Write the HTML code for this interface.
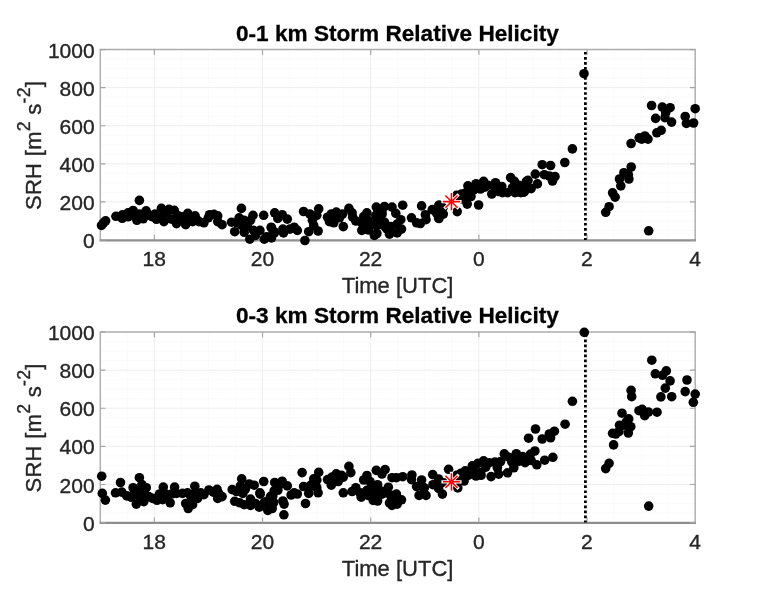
<!DOCTYPE html>
<html><head><meta charset="utf-8"><title>Storm Relative Helicity</title>
<style>html,body{margin:0;padding:0;background:#fff}svg{display:block}text{filter:grayscale(1);font-family:"Liberation Sans",Arial,Helvetica,sans-serif;fill:#262626}.t{font-size:21px;stroke:#262626;stroke-width:.35px}.l{font-size:22px;stroke:#262626;stroke-width:.35px}.h{font-size:22.6px;font-weight:bold;fill:#000;stroke:#000;stroke-width:.3px}</style></head><body>
<svg width="768" height="596" viewBox="0 0 768 596">
<rect width="768" height="596" fill="#fff"/>
<g>
<path d="M127.34 49.55V240.00M181.42 49.55V240.00M208.46 49.55V240.00M235.50 49.55V240.00M289.59 49.55V240.00M316.63 49.55V240.00M343.67 49.55V240.00M397.75 49.55V240.00M424.79 49.55V240.00M451.83 49.55V240.00M505.91 49.55V240.00M532.95 49.55V240.00M560.00 49.55V240.00M614.08 49.55V240.00M641.12 49.55V240.00M668.16 49.55V240.00M100.30 230.48H695.20M100.30 220.96H695.20M100.30 211.43H695.20M100.30 192.39H695.20M100.30 182.87H695.20M100.30 173.34H695.20M100.30 154.30H695.20M100.30 144.78H695.20M100.30 135.25H695.20M100.30 116.21H695.20M100.30 106.69H695.20M100.30 97.16H695.20M100.30 78.12H695.20M100.30 68.60H695.20M100.30 59.07H695.20" stroke="#f1f1f1" stroke-width="0.8" stroke-dasharray="1 1.5" fill="none"/>
<path d="M154.38 49.55V240.00M262.55 49.55V240.00M370.71 49.55V240.00M478.87 49.55V240.00M587.04 49.55V240.00M100.30 201.91H695.20M100.30 163.82H695.20M100.30 125.73H695.20M100.30 87.64H695.20" stroke="#eeeeee" stroke-width="1" fill="none"/>
<path d="M100.30 240.40V49.55H695.20V240.40" fill="none" stroke="#adadad" stroke-width="1.45"/>
<path d="M99.60 240.45H695.90" fill="none" stroke="#8e8e8e" stroke-width="2.2"/>
<path d="M154.38 240.00v-5.20M154.38 49.55v5.20M262.55 240.00v-5.20M262.55 49.55v5.20M370.71 240.00v-5.20M370.71 49.55v5.20M478.87 240.00v-5.20M478.87 49.55v5.20M587.04 240.00v-5.20M587.04 49.55v5.20M100.30 240.00h5.20M695.20 240.00h-5.20M100.30 201.91h5.20M695.20 201.91h-5.20M100.30 163.82h5.20M695.20 163.82h-5.20M100.30 125.73h5.20M695.20 125.73h-5.20M100.30 87.64h5.20M695.20 87.64h-5.20M100.30 49.55h5.20M695.20 49.55h-5.20" stroke="#a4a4a4" stroke-width="1.15" fill="none"/>
<path d="M585.40 49.55V240.00" stroke="#000" stroke-width="2.75" stroke-dasharray="2.65 2.38" stroke-dashoffset="2.63" fill="none"/>
<g fill="#000">
<circle cx="101.5" cy="225.4" r="4.80"/>
<circle cx="103.5" cy="222.8" r="4.80"/>
<circle cx="105.6" cy="220.8" r="4.80"/>
<circle cx="139.4" cy="200.4" r="4.80"/>
<circle cx="115.9" cy="216.3" r="4.80"/>
<circle cx="122.2" cy="218.3" r="4.80"/>
<circle cx="122.4" cy="214.8" r="4.80"/>
<circle cx="128.1" cy="212.8" r="4.80"/>
<circle cx="128.1" cy="216.8" r="4.80"/>
<circle cx="133.1" cy="210.5" r="4.80"/>
<circle cx="133.7" cy="215.3" r="4.80"/>
<circle cx="136.9" cy="220.3" r="4.80"/>
<circle cx="139.4" cy="214.0" r="4.80"/>
<circle cx="143.2" cy="218.8" r="4.80"/>
<circle cx="146.1" cy="210.9" r="4.80"/>
<circle cx="148.8" cy="215.3" r="4.80"/>
<circle cx="152.6" cy="216.8" r="4.80"/>
<circle cx="156.4" cy="219.3" r="4.80"/>
<circle cx="161.4" cy="208.4" r="4.80"/>
<circle cx="163.9" cy="221.6" r="4.80"/>
<circle cx="166.5" cy="212.8" r="4.80"/>
<circle cx="169.0" cy="209.3" r="4.80"/>
<circle cx="174.3" cy="210.3" r="4.80"/>
<circle cx="171.5" cy="219.1" r="4.80"/>
<circle cx="176.5" cy="223.6" r="4.80"/>
<circle cx="178.4" cy="215.9" r="4.80"/>
<circle cx="187.8" cy="213.3" r="4.80"/>
<circle cx="185.7" cy="224.7" r="4.80"/>
<circle cx="182.5" cy="220.3" r="4.80"/>
<circle cx="195.1" cy="215.9" r="4.80"/>
<circle cx="192.6" cy="221.6" r="4.80"/>
<circle cx="198.9" cy="221.6" r="4.80"/>
<circle cx="203.9" cy="222.8" r="4.80"/>
<circle cx="209.6" cy="214.7" r="4.80"/>
<circle cx="214.0" cy="214.3" r="4.80"/>
<circle cx="217.7" cy="215.9" r="4.80"/>
<circle cx="217.7" cy="221.6" r="4.80"/>
<circle cx="222.1" cy="224.7" r="4.80"/>
<circle cx="231.6" cy="222.2" r="4.80"/>
<circle cx="241.4" cy="208.4" r="4.80"/>
<circle cx="239.1" cy="217.8" r="4.80"/>
<circle cx="244.2" cy="220.3" r="4.80"/>
<circle cx="234.7" cy="231.7" r="4.80"/>
<circle cx="241.7" cy="225.4" r="4.80"/>
<circle cx="244.2" cy="232.3" r="4.80"/>
<circle cx="253.0" cy="215.3" r="4.80"/>
<circle cx="250.5" cy="220.3" r="4.80"/>
<circle cx="263.7" cy="215.3" r="4.80"/>
<circle cx="253.6" cy="230.4" r="4.80"/>
<circle cx="259.9" cy="230.4" r="4.80"/>
<circle cx="249.8" cy="239.2" r="4.80"/>
<circle cx="255.5" cy="235.4" r="4.80"/>
<circle cx="264.3" cy="239.2" r="4.80"/>
<circle cx="271.2" cy="227.2" r="4.80"/>
<circle cx="270.6" cy="236.7" r="4.80"/>
<circle cx="274.4" cy="232.9" r="4.80"/>
<circle cx="274.7" cy="212.8" r="4.80"/>
<circle cx="282.2" cy="214.7" r="4.80"/>
<circle cx="277.8" cy="218.4" r="4.80"/>
<circle cx="287.3" cy="219.1" r="4.80"/>
<circle cx="271.5" cy="227.9" r="4.80"/>
<circle cx="274.1" cy="231.7" r="4.80"/>
<circle cx="266.5" cy="236.7" r="4.80"/>
<circle cx="271.5" cy="237.9" r="4.80"/>
<circle cx="282.9" cy="229.1" r="4.80"/>
<circle cx="283.5" cy="232.9" r="4.80"/>
<circle cx="289.8" cy="229.1" r="4.80"/>
<circle cx="294.2" cy="227.2" r="4.80"/>
<circle cx="297.3" cy="230.4" r="4.80"/>
<circle cx="303.6" cy="211.5" r="4.80"/>
<circle cx="309.9" cy="214.0" r="4.80"/>
<circle cx="318.7" cy="208.8" r="4.80"/>
<circle cx="316.8" cy="215.3" r="4.80"/>
<circle cx="312.4" cy="220.3" r="4.80"/>
<circle cx="313.7" cy="225.4" r="4.80"/>
<circle cx="308.7" cy="231.7" r="4.80"/>
<circle cx="318.1" cy="231.0" r="4.80"/>
<circle cx="304.9" cy="240.5" r="4.80"/>
<circle cx="327.5" cy="217.2" r="4.80"/>
<circle cx="331.3" cy="214.0" r="4.80"/>
<circle cx="336.3" cy="212.1" r="4.80"/>
<circle cx="329.4" cy="221.6" r="4.80"/>
<circle cx="333.8" cy="222.8" r="4.80"/>
<circle cx="339.5" cy="217.8" r="4.80"/>
<circle cx="343.3" cy="226.6" r="4.80"/>
<circle cx="342.6" cy="214.0" r="4.80"/>
<circle cx="348.9" cy="208.4" r="4.80"/>
<circle cx="352.1" cy="212.8" r="4.80"/>
<circle cx="352.7" cy="217.2" r="4.80"/>
<circle cx="355.8" cy="221.0" r="4.80"/>
<circle cx="366.9" cy="212.8" r="4.80"/>
<circle cx="363.7" cy="216.6" r="4.80"/>
<circle cx="361.8" cy="222.8" r="4.80"/>
<circle cx="361.8" cy="230.4" r="4.80"/>
<circle cx="368.1" cy="220.3" r="4.80"/>
<circle cx="368.1" cy="226.6" r="4.80"/>
<circle cx="376.3" cy="207.1" r="4.80"/>
<circle cx="384.5" cy="206.5" r="4.80"/>
<circle cx="392.0" cy="207.1" r="4.80"/>
<circle cx="382.0" cy="212.1" r="4.80"/>
<circle cx="395.8" cy="213.4" r="4.80"/>
<circle cx="402.7" cy="205.2" r="4.80"/>
<circle cx="376.9" cy="219.1" r="4.80"/>
<circle cx="375.7" cy="225.4" r="4.80"/>
<circle cx="376.9" cy="233.5" r="4.80"/>
<circle cx="374.4" cy="235.4" r="4.80"/>
<circle cx="384.5" cy="222.2" r="4.80"/>
<circle cx="400.8" cy="219.7" r="4.80"/>
<circle cx="397.1" cy="224.1" r="4.80"/>
<circle cx="390.8" cy="226.6" r="4.80"/>
<circle cx="389.5" cy="234.2" r="4.80"/>
<circle cx="397.1" cy="232.9" r="4.80"/>
<circle cx="387.0" cy="229.1" r="4.80"/>
<circle cx="411.5" cy="217.8" r="4.80"/>
<circle cx="421.6" cy="205.9" r="4.80"/>
<circle cx="416.6" cy="222.8" r="4.80"/>
<circle cx="420.3" cy="223.5" r="4.80"/>
<circle cx="426.0" cy="219.7" r="4.80"/>
<circle cx="425.4" cy="214.7" r="4.80"/>
<circle cx="432.3" cy="209.6" r="4.80"/>
<circle cx="439.2" cy="205.2" r="4.80"/>
<circle cx="438.6" cy="211.5" r="4.80"/>
<circle cx="438.6" cy="217.8" r="4.80"/>
<circle cx="443.0" cy="207.7" r="4.80"/>
<circle cx="438.9" cy="205.3" r="4.80"/>
<circle cx="436.4" cy="212.9" r="4.80"/>
<circle cx="443.3" cy="214.1" r="4.80"/>
<circle cx="438.9" cy="218.5" r="4.80"/>
<circle cx="456.5" cy="195.3" r="4.80"/>
<circle cx="457.2" cy="211.6" r="4.80"/>
<circle cx="461.6" cy="194.0" r="4.80"/>
<circle cx="467.9" cy="185.8" r="4.80"/>
<circle cx="466.0" cy="192.7" r="4.80"/>
<circle cx="466.0" cy="199.0" r="4.80"/>
<circle cx="467.2" cy="204.1" r="4.80"/>
<circle cx="478.6" cy="205.0" r="4.80"/>
<circle cx="476.0" cy="183.7" r="4.80"/>
<circle cx="483.6" cy="181.4" r="4.80"/>
<circle cx="480.4" cy="189.0" r="4.80"/>
<circle cx="473.5" cy="190.2" r="4.80"/>
<circle cx="488.0" cy="185.2" r="4.80"/>
<circle cx="495.5" cy="182.7" r="4.80"/>
<circle cx="491.8" cy="194.0" r="4.80"/>
<circle cx="498.7" cy="191.5" r="4.80"/>
<circle cx="501.8" cy="186.5" r="4.80"/>
<circle cx="507.5" cy="192.7" r="4.80"/>
<circle cx="510.6" cy="177.6" r="4.80"/>
<circle cx="514.4" cy="181.4" r="4.80"/>
<circle cx="512.5" cy="187.7" r="4.80"/>
<circle cx="518.8" cy="189.0" r="4.80"/>
<circle cx="524.5" cy="191.5" r="4.80"/>
<circle cx="526.4" cy="181.4" r="4.80"/>
<circle cx="525.7" cy="186.5" r="4.80"/>
<circle cx="572.4" cy="148.9" r="4.80"/>
<circle cx="564.8" cy="162.5" r="4.80"/>
<circle cx="542.2" cy="164.7" r="4.80"/>
<circle cx="550.6" cy="165.5" r="4.80"/>
<circle cx="535.3" cy="174.1" r="4.80"/>
<circle cx="544.3" cy="174.7" r="4.80"/>
<circle cx="555.0" cy="176.6" r="4.80"/>
<circle cx="552.5" cy="181.0" r="4.80"/>
<circle cx="549.3" cy="176.0" r="4.80"/>
<circle cx="528.0" cy="180.4" r="4.80"/>
<circle cx="537.4" cy="183.9" r="4.80"/>
<circle cx="531.1" cy="188.6" r="4.80"/>
<circle cx="524.8" cy="186.7" r="4.80"/>
<circle cx="523.5" cy="192.3" r="4.80"/>
<circle cx="516.0" cy="187.9" r="4.80"/>
<circle cx="517.9" cy="191.7" r="4.80"/>
<circle cx="605.7" cy="212.3" r="4.80"/>
<circle cx="609.1" cy="206.7" r="4.80"/>
<circle cx="612.6" cy="192.8" r="4.80"/>
<circle cx="615.1" cy="197.2" r="4.80"/>
<circle cx="619.5" cy="179.0" r="4.80"/>
<circle cx="620.8" cy="185.9" r="4.80"/>
<circle cx="623.9" cy="172.7" r="4.80"/>
<circle cx="628.9" cy="179.0" r="4.80"/>
<circle cx="628.3" cy="174.6" r="4.80"/>
<circle cx="631.2" cy="167.0" r="4.80"/>
<circle cx="631.1" cy="143.5" r="4.80"/>
<circle cx="639.2" cy="137.9" r="4.80"/>
<circle cx="641.7" cy="139.1" r="4.80"/>
<circle cx="644.9" cy="136.0" r="4.80"/>
<circle cx="648.0" cy="139.1" r="4.80"/>
<circle cx="656.8" cy="132.8" r="4.80"/>
<circle cx="661.2" cy="130.3" r="4.80"/>
<circle cx="655.6" cy="118.4" r="4.80"/>
<circle cx="651.6" cy="105.5" r="4.80"/>
<circle cx="662.3" cy="107.1" r="4.80"/>
<circle cx="670.1" cy="107.7" r="4.80"/>
<circle cx="665.7" cy="112.7" r="4.80"/>
<circle cx="665.0" cy="117.7" r="4.80"/>
<circle cx="671.6" cy="122.1" r="4.80"/>
<circle cx="685.2" cy="116.5" r="4.80"/>
<circle cx="686.4" cy="123.4" r="4.80"/>
<circle cx="693.6" cy="123.0" r="4.80"/>
<circle cx="695.2" cy="108.7" r="4.80"/>
<circle cx="584.0" cy="73.7" r="4.80"/>
<circle cx="648.7" cy="230.8" r="4.80"/>
<circle cx="335.2" cy="214.4" r="4.80"/>
<circle cx="331.0" cy="219.6" r="4.80"/>
<circle cx="369.5" cy="224.8" r="4.80"/>
<circle cx="378.9" cy="224.8" r="4.80"/>
<circle cx="375.8" cy="215.4" r="4.80"/>
<circle cx="385.2" cy="226.9" r="4.80"/>
<circle cx="382.0" cy="214.4" r="4.80"/>
<circle cx="368.5" cy="230.0" r="4.80"/>
<circle cx="189.4" cy="217.8" r="4.80"/>
<circle cx="197.6" cy="220.3" r="4.80"/>
<circle cx="208.3" cy="217.8" r="4.80"/>
<circle cx="247.3" cy="226.0" r="4.80"/>
<circle cx="237.2" cy="222.8" r="4.80"/>
<circle cx="190.6" cy="219.3" r="4.80"/>
<circle cx="182.8" cy="216.8" r="4.80"/>
<circle cx="155.1" cy="214.0" r="4.80"/>
<circle cx="162.1" cy="215.9" r="4.80"/>
<circle cx="401.5" cy="229.1" r="4.80"/>
<circle cx="484.8" cy="187.1" r="4.80"/>
<circle cx="494.9" cy="188.0" r="4.80"/>
<circle cx="518.8" cy="185.2" r="4.80"/>
<circle cx="502.5" cy="192.7" r="4.80"/>
<circle cx="515.0" cy="192.7" r="4.80"/>
<circle cx="520.7" cy="192.7" r="4.80"/>
<circle cx="471.0" cy="196.5" r="4.80"/>
<circle cx="462.2" cy="199.0" r="4.80"/>
</g>
<path d="M441.40 201.60h20.20M451.50 191.50v20.20M444.36 194.46l14.28 14.28M444.36 208.74l14.28 -14.28" stroke="#fff" stroke-width="3.2" fill="none"/>
<path d="M442.90 201.60h17.20M451.50 193.00v17.20M445.42 195.52l12.16 12.16M445.42 207.68l12.16 -12.16" stroke="#ff0000" stroke-width="1.55" fill="none"/>
<text class="t" x="94.6" y="248.0" text-anchor="end">0</text>
<text class="t" x="94.6" y="209.9" text-anchor="end">200</text>
<text class="t" x="94.6" y="171.8" text-anchor="end">400</text>
<text class="t" x="94.6" y="133.7" text-anchor="end">600</text>
<text class="t" x="94.6" y="95.6" text-anchor="end">800</text>
<text class="t" x="94.6" y="57.6" text-anchor="end">1000</text>
<text class="t" x="154.3" y="266.2" text-anchor="middle">18</text>
<text class="t" x="262.4" y="266.2" text-anchor="middle">20</text>
<text class="t" x="370.6" y="266.2" text-anchor="middle">22</text>
<text class="t" x="478.8" y="266.2" text-anchor="middle">0</text>
<text class="t" x="586.9" y="266.2" text-anchor="middle">2</text>
<text class="t" x="695.1" y="266.2" text-anchor="middle">4</text>
<text class="l" x="397.6" y="293.2" text-anchor="middle">Time [UTC]</text>
<text class="h" x="397.4" y="40.6" text-anchor="middle">0-1 km Storm Relative Helicity</text>
<text class="l" letter-spacing="0.3" transform="translate(40.7 145.4) rotate(-90)" text-anchor="middle">SRH [m<tspan dy="-11.2" font-size="17.6">2</tspan><tspan dy="11.2"> s</tspan><tspan dy="-11.2" font-size="17.6">-2</tspan><tspan dy="11.2">]</tspan></text>
</g>
<g>
<path d="M127.34 332.07V522.60M181.42 332.07V522.60M208.46 332.07V522.60M235.50 332.07V522.60M289.59 332.07V522.60M316.63 332.07V522.60M343.67 332.07V522.60M397.75 332.07V522.60M424.79 332.07V522.60M451.83 332.07V522.60M505.91 332.07V522.60M532.95 332.07V522.60M560.00 332.07V522.60M614.08 332.07V522.60M641.12 332.07V522.60M668.16 332.07V522.60M100.30 513.07H695.20M100.30 503.55H695.20M100.30 494.02H695.20M100.30 474.97H695.20M100.30 465.44H695.20M100.30 455.91H695.20M100.30 436.86H695.20M100.30 427.34H695.20M100.30 417.81H695.20M100.30 398.76H695.20M100.30 389.23H695.20M100.30 379.70H695.20M100.30 360.65H695.20M100.30 351.12H695.20M100.30 341.60H695.20" stroke="#f1f1f1" stroke-width="0.8" stroke-dasharray="1 1.5" fill="none"/>
<path d="M154.38 332.07V522.60M262.55 332.07V522.60M370.71 332.07V522.60M478.87 332.07V522.60M587.04 332.07V522.60M100.30 484.49H695.20M100.30 446.39H695.20M100.30 408.28H695.20M100.30 370.18H695.20" stroke="#eeeeee" stroke-width="1" fill="none"/>
<path d="M100.30 523.00V332.07H695.20V523.00" fill="none" stroke="#adadad" stroke-width="1.45"/>
<path d="M99.60 522.80H695.90" fill="none" stroke="#8e8e8e" stroke-width="2.2"/>
<path d="M154.38 522.60v-5.20M154.38 332.07v5.20M262.55 522.60v-5.20M262.55 332.07v5.20M370.71 522.60v-5.20M370.71 332.07v5.20M478.87 522.60v-5.20M478.87 332.07v5.20M587.04 522.60v-5.20M587.04 332.07v5.20M100.30 522.60h5.20M695.20 522.60h-5.20M100.30 484.49h5.20M695.20 484.49h-5.20M100.30 446.39h5.20M695.20 446.39h-5.20M100.30 408.28h5.20M695.20 408.28h-5.20M100.30 370.18h5.20M695.20 370.18h-5.20M100.30 332.07h5.20M695.20 332.07h-5.20" stroke="#a4a4a4" stroke-width="1.15" fill="none"/>
<path d="M585.40 332.07V522.60" stroke="#000" stroke-width="2.75" stroke-dasharray="2.65 2.38" stroke-dashoffset="2.63" fill="none"/>
<g fill="#000">
<circle cx="101.7" cy="476.2" r="4.80"/>
<circle cx="102.3" cy="493.4" r="4.80"/>
<circle cx="105.4" cy="500.1" r="4.80"/>
<circle cx="120.5" cy="482.5" r="4.80"/>
<circle cx="115.5" cy="492.8" r="4.80"/>
<circle cx="121.8" cy="492.1" r="4.80"/>
<circle cx="126.8" cy="495.9" r="4.80"/>
<circle cx="133.1" cy="487.7" r="4.80"/>
<circle cx="139.4" cy="477.7" r="4.80"/>
<circle cx="141.9" cy="484.6" r="4.80"/>
<circle cx="146.3" cy="487.7" r="4.80"/>
<circle cx="133.7" cy="494.0" r="4.80"/>
<circle cx="136.3" cy="504.1" r="4.80"/>
<circle cx="143.8" cy="501.6" r="4.80"/>
<circle cx="140.0" cy="496.6" r="4.80"/>
<circle cx="148.8" cy="496.6" r="4.80"/>
<circle cx="152.6" cy="498.4" r="4.80"/>
<circle cx="157.0" cy="500.3" r="4.80"/>
<circle cx="159.5" cy="494.0" r="4.80"/>
<circle cx="163.3" cy="487.1" r="4.80"/>
<circle cx="165.8" cy="494.0" r="4.80"/>
<circle cx="162.7" cy="499.7" r="4.80"/>
<circle cx="170.2" cy="502.8" r="4.80"/>
<circle cx="171.5" cy="494.0" r="4.80"/>
<circle cx="174.6" cy="487.1" r="4.80"/>
<circle cx="176.5" cy="493.4" r="4.80"/>
<circle cx="182.5" cy="493.4" r="4.80"/>
<circle cx="187.5" cy="492.8" r="4.80"/>
<circle cx="194.8" cy="486.2" r="4.80"/>
<circle cx="185.7" cy="503.5" r="4.80"/>
<circle cx="188.2" cy="508.5" r="4.80"/>
<circle cx="192.6" cy="504.7" r="4.80"/>
<circle cx="193.8" cy="494.0" r="4.80"/>
<circle cx="197.6" cy="498.4" r="4.80"/>
<circle cx="200.8" cy="492.8" r="4.80"/>
<circle cx="203.9" cy="494.7" r="4.80"/>
<circle cx="208.9" cy="490.0" r="4.80"/>
<circle cx="217.1" cy="489.3" r="4.80"/>
<circle cx="219.0" cy="494.0" r="4.80"/>
<circle cx="217.7" cy="498.4" r="4.80"/>
<circle cx="222.1" cy="496.6" r="4.80"/>
<circle cx="232.2" cy="489.6" r="4.80"/>
<circle cx="241.7" cy="478.9" r="4.80"/>
<circle cx="240.4" cy="485.9" r="4.80"/>
<circle cx="245.4" cy="489.0" r="4.80"/>
<circle cx="249.2" cy="484.0" r="4.80"/>
<circle cx="254.2" cy="485.2" r="4.80"/>
<circle cx="242.9" cy="493.4" r="4.80"/>
<circle cx="234.7" cy="501.3" r="4.80"/>
<circle cx="259.9" cy="492.8" r="4.80"/>
<circle cx="263.7" cy="481.5" r="4.80"/>
<circle cx="244.2" cy="504.7" r="4.80"/>
<circle cx="250.5" cy="499.1" r="4.80"/>
<circle cx="250.5" cy="505.4" r="4.80"/>
<circle cx="255.5" cy="503.5" r="4.80"/>
<circle cx="259.3" cy="507.2" r="4.80"/>
<circle cx="274.7" cy="482.5" r="4.80"/>
<circle cx="282.2" cy="481.2" r="4.80"/>
<circle cx="279.1" cy="485.2" r="4.80"/>
<circle cx="287.3" cy="485.9" r="4.80"/>
<circle cx="274.1" cy="490.9" r="4.80"/>
<circle cx="277.8" cy="490.3" r="4.80"/>
<circle cx="272.8" cy="495.9" r="4.80"/>
<circle cx="266.5" cy="501.6" r="4.80"/>
<circle cx="271.5" cy="505.4" r="4.80"/>
<circle cx="267.8" cy="510.4" r="4.80"/>
<circle cx="272.2" cy="508.5" r="4.80"/>
<circle cx="282.9" cy="501.0" r="4.80"/>
<circle cx="284.1" cy="504.1" r="4.80"/>
<circle cx="283.9" cy="514.8" r="4.80"/>
<circle cx="291.1" cy="495.0" r="4.80"/>
<circle cx="297.3" cy="494.0" r="4.80"/>
<circle cx="294.2" cy="492.8" r="4.80"/>
<circle cx="302.1" cy="472.6" r="4.80"/>
<circle cx="303.6" cy="486.5" r="4.80"/>
<circle cx="308.7" cy="493.4" r="4.80"/>
<circle cx="305.5" cy="503.5" r="4.80"/>
<circle cx="313.7" cy="478.9" r="4.80"/>
<circle cx="318.7" cy="472.4" r="4.80"/>
<circle cx="316.8" cy="480.2" r="4.80"/>
<circle cx="313.1" cy="485.9" r="4.80"/>
<circle cx="316.8" cy="487.7" r="4.80"/>
<circle cx="318.1" cy="492.8" r="4.80"/>
<circle cx="327.5" cy="479.6" r="4.80"/>
<circle cx="331.9" cy="477.1" r="4.80"/>
<circle cx="336.3" cy="473.9" r="4.80"/>
<circle cx="341.4" cy="475.2" r="4.80"/>
<circle cx="343.3" cy="477.1" r="4.80"/>
<circle cx="338.2" cy="481.5" r="4.80"/>
<circle cx="331.3" cy="485.2" r="4.80"/>
<circle cx="334.5" cy="480.8" r="4.80"/>
<circle cx="348.9" cy="466.4" r="4.80"/>
<circle cx="350.8" cy="472.6" r="4.80"/>
<circle cx="343.3" cy="492.8" r="4.80"/>
<circle cx="352.1" cy="491.5" r="4.80"/>
<circle cx="355.8" cy="487.7" r="4.80"/>
<circle cx="366.9" cy="475.5" r="4.80"/>
<circle cx="363.7" cy="480.0" r="4.80"/>
<circle cx="370.0" cy="481.5" r="4.80"/>
<circle cx="361.2" cy="497.2" r="4.80"/>
<circle cx="360.0" cy="492.8" r="4.80"/>
<circle cx="366.9" cy="490.3" r="4.80"/>
<circle cx="368.1" cy="495.4" r="4.80"/>
<circle cx="377.6" cy="484.7" r="4.80"/>
<circle cx="376.3" cy="470.4" r="4.80"/>
<circle cx="385.1" cy="469.6" r="4.80"/>
<circle cx="382.0" cy="474.0" r="4.80"/>
<circle cx="392.0" cy="477.7" r="4.80"/>
<circle cx="396.4" cy="477.7" r="4.80"/>
<circle cx="402.7" cy="476.7" r="4.80"/>
<circle cx="411.9" cy="475.0" r="4.80"/>
<circle cx="411.5" cy="479.6" r="4.80"/>
<circle cx="388.3" cy="487.2" r="4.80"/>
<circle cx="375.1" cy="492.8" r="4.80"/>
<circle cx="373.2" cy="500.4" r="4.80"/>
<circle cx="377.6" cy="501.0" r="4.80"/>
<circle cx="382.0" cy="494.1" r="4.80"/>
<circle cx="385.7" cy="492.8" r="4.80"/>
<circle cx="396.4" cy="494.1" r="4.80"/>
<circle cx="401.5" cy="499.8" r="4.80"/>
<circle cx="389.5" cy="502.9" r="4.80"/>
<circle cx="392.0" cy="505.4" r="4.80"/>
<circle cx="397.1" cy="504.2" r="4.80"/>
<circle cx="391.4" cy="497.2" r="4.80"/>
<circle cx="416.6" cy="486.6" r="4.80"/>
<circle cx="421.6" cy="480.0" r="4.80"/>
<circle cx="423.5" cy="487.8" r="4.80"/>
<circle cx="419.1" cy="495.4" r="4.80"/>
<circle cx="426.0" cy="495.4" r="4.80"/>
<circle cx="432.7" cy="474.6" r="4.80"/>
<circle cx="432.9" cy="484.7" r="4.80"/>
<circle cx="438.6" cy="479.0" r="4.80"/>
<circle cx="438.6" cy="488.4" r="4.80"/>
<circle cx="442.4" cy="494.1" r="4.80"/>
<circle cx="443.6" cy="482.8" r="4.80"/>
<circle cx="448.6" cy="469.3" r="4.80"/>
<circle cx="456.5" cy="475.3" r="4.80"/>
<circle cx="457.8" cy="487.9" r="4.80"/>
<circle cx="464.1" cy="481.0" r="4.80"/>
<circle cx="465.3" cy="470.9" r="4.80"/>
<circle cx="472.3" cy="465.9" r="4.80"/>
<circle cx="469.7" cy="474.1" r="4.80"/>
<circle cx="477.9" cy="463.4" r="4.80"/>
<circle cx="483.6" cy="460.9" r="4.80"/>
<circle cx="481.1" cy="475.3" r="4.80"/>
<circle cx="476.0" cy="476.0" r="4.80"/>
<circle cx="489.2" cy="462.7" r="4.80"/>
<circle cx="494.9" cy="462.1" r="4.80"/>
<circle cx="491.1" cy="476.6" r="4.80"/>
<circle cx="497.4" cy="467.8" r="4.80"/>
<circle cx="498.7" cy="474.1" r="4.80"/>
<circle cx="500.6" cy="461.5" r="4.80"/>
<circle cx="504.3" cy="453.9" r="4.80"/>
<circle cx="507.5" cy="472.8" r="4.80"/>
<circle cx="510.0" cy="457.7" r="4.80"/>
<circle cx="516.3" cy="453.7" r="4.80"/>
<circle cx="513.8" cy="467.8" r="4.80"/>
<circle cx="517.6" cy="461.5" r="4.80"/>
<circle cx="522.6" cy="456.5" r="4.80"/>
<circle cx="525.1" cy="462.7" r="4.80"/>
<circle cx="572.4" cy="401.3" r="4.80"/>
<circle cx="565.1" cy="424.2" r="4.80"/>
<circle cx="535.5" cy="429.0" r="4.80"/>
<circle cx="528.6" cy="438.2" r="4.80"/>
<circle cx="554.4" cy="431.2" r="4.80"/>
<circle cx="549.3" cy="434.0" r="4.80"/>
<circle cx="550.6" cy="437.8" r="4.80"/>
<circle cx="542.2" cy="439.0" r="4.80"/>
<circle cx="534.9" cy="451.0" r="4.80"/>
<circle cx="530.5" cy="454.1" r="4.80"/>
<circle cx="552.9" cy="457.3" r="4.80"/>
<circle cx="544.7" cy="460.2" r="4.80"/>
<circle cx="536.8" cy="464.8" r="4.80"/>
<circle cx="531.1" cy="460.4" r="4.80"/>
<circle cx="605.7" cy="468.6" r="4.80"/>
<circle cx="609.1" cy="463.3" r="4.80"/>
<circle cx="613.6" cy="444.9" r="4.80"/>
<circle cx="612.6" cy="433.3" r="4.80"/>
<circle cx="615.7" cy="434.0" r="4.80"/>
<circle cx="619.5" cy="425.2" r="4.80"/>
<circle cx="618.9" cy="431.5" r="4.80"/>
<circle cx="622.0" cy="413.2" r="4.80"/>
<circle cx="628.7" cy="418.9" r="4.80"/>
<circle cx="626.4" cy="422.0" r="4.80"/>
<circle cx="630.8" cy="426.7" r="4.80"/>
<circle cx="628.3" cy="433.0" r="4.80"/>
<circle cx="623.9" cy="425.2" r="4.80"/>
<circle cx="639.0" cy="410.7" r="4.80"/>
<circle cx="642.1" cy="409.4" r="4.80"/>
<circle cx="644.7" cy="415.7" r="4.80"/>
<circle cx="648.4" cy="412.0" r="4.80"/>
<circle cx="657.0" cy="412.2" r="4.80"/>
<circle cx="651.8" cy="360.2" r="4.80"/>
<circle cx="655.3" cy="373.8" r="4.80"/>
<circle cx="666.3" cy="370.9" r="4.80"/>
<circle cx="662.5" cy="375.3" r="4.80"/>
<circle cx="670.1" cy="380.9" r="4.80"/>
<circle cx="665.3" cy="388.1" r="4.80"/>
<circle cx="660.9" cy="396.9" r="4.80"/>
<circle cx="671.7" cy="396.7" r="4.80"/>
<circle cx="687.0" cy="380.0" r="4.80"/>
<circle cx="685.2" cy="391.6" r="4.80"/>
<circle cx="695.2" cy="394.1" r="4.80"/>
<circle cx="693.3" cy="402.3" r="4.80"/>
<circle cx="631.1" cy="390.4" r="4.80"/>
<circle cx="631.7" cy="396.7" r="4.80"/>
<circle cx="584.3" cy="332.4" r="4.80"/>
<circle cx="648.7" cy="506.1" r="4.80"/>
<circle cx="137.7" cy="491.0" r="4.80"/>
<circle cx="131.4" cy="497.3" r="4.80"/>
<circle cx="145.0" cy="494.2" r="4.80"/>
<circle cx="140.8" cy="497.3" r="4.80"/>
<circle cx="166.8" cy="495.2" r="4.80"/>
<circle cx="190.8" cy="496.3" r="4.80"/>
<circle cx="310.6" cy="485.4" r="4.80"/>
<circle cx="370.6" cy="489.0" r="4.80"/>
<circle cx="375.8" cy="495.2" r="4.80"/>
<circle cx="364.3" cy="493.1" r="4.80"/>
<circle cx="381.0" cy="491.0" r="4.80"/>
<circle cx="394.5" cy="500.4" r="4.80"/>
<circle cx="391.4" cy="495.2" r="4.80"/>
<circle cx="270.6" cy="496.3" r="4.80"/>
<circle cx="264.3" cy="502.5" r="4.80"/>
<circle cx="273.7" cy="502.5" r="4.80"/>
<circle cx="260.2" cy="494.2" r="4.80"/>
<circle cx="473.3" cy="470.2" r="4.80"/>
<circle cx="468.1" cy="475.4" r="4.80"/>
<circle cx="485.8" cy="467.1" r="4.80"/>
<circle cx="480.6" cy="472.3" r="4.80"/>
<circle cx="497.3" cy="466.0" r="4.80"/>
<circle cx="511.8" cy="461.9" r="4.80"/>
<circle cx="507.7" cy="456.7" r="4.80"/>
<circle cx="520.2" cy="460.8" r="4.80"/>
<circle cx="528.5" cy="459.8" r="4.80"/>
<circle cx="456.6" cy="476.5" r="4.80"/>
<circle cx="460.8" cy="473.3" r="4.80"/>
<circle cx="424.3" cy="487.9" r="4.80"/>
<circle cx="435.8" cy="484.8" r="4.80"/>
<circle cx="236.6" cy="491.5" r="4.80"/>
<circle cx="239.8" cy="502.8" r="4.80"/>
<circle cx="213.3" cy="492.1" r="4.80"/>
</g>
<path d="M441.40 481.80h20.20M451.50 471.70v20.20M444.36 474.66l14.28 14.28M444.36 488.94l14.28 -14.28" stroke="#fff" stroke-width="3.2" fill="none"/>
<path d="M442.90 481.80h17.20M451.50 473.20v17.20M445.42 475.72l12.16 12.16M445.42 487.88l12.16 -12.16" stroke="#ff0000" stroke-width="1.55" fill="none"/>
<text class="t" x="94.6" y="530.6" text-anchor="end">0</text>
<text class="t" x="94.6" y="492.5" text-anchor="end">200</text>
<text class="t" x="94.6" y="454.4" text-anchor="end">400</text>
<text class="t" x="94.6" y="416.3" text-anchor="end">600</text>
<text class="t" x="94.6" y="378.2" text-anchor="end">800</text>
<text class="t" x="94.6" y="340.1" text-anchor="end">1000</text>
<text class="t" x="154.3" y="548.8" text-anchor="middle">18</text>
<text class="t" x="262.4" y="548.8" text-anchor="middle">20</text>
<text class="t" x="370.6" y="548.8" text-anchor="middle">22</text>
<text class="t" x="478.8" y="548.8" text-anchor="middle">0</text>
<text class="t" x="586.9" y="548.8" text-anchor="middle">2</text>
<text class="t" x="695.1" y="548.8" text-anchor="middle">4</text>
<text class="l" x="397.6" y="575.8" text-anchor="middle">Time [UTC]</text>
<text class="h" x="397.4" y="323.2" text-anchor="middle">0-3 km Storm Relative Helicity</text>
<text class="l" letter-spacing="0.3" transform="translate(40.7 427.9) rotate(-90)" text-anchor="middle">SRH [m<tspan dy="-11.2" font-size="17.6">2</tspan><tspan dy="11.2"> s</tspan><tspan dy="-11.2" font-size="17.6">-2</tspan><tspan dy="11.2">]</tspan></text>
</g>
</svg></body></html>
